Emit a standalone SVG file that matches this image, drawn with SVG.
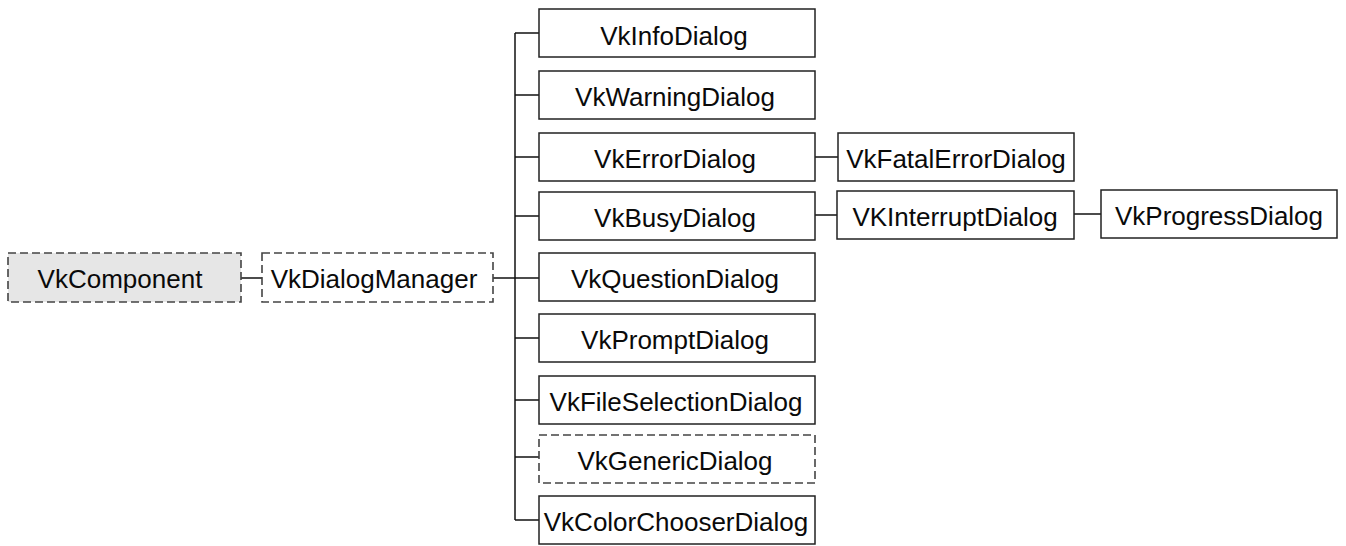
<svg xmlns="http://www.w3.org/2000/svg" width="1346" height="546" viewBox="0 0 1346 546">
  <style>
    .box { fill: #ffffff; stroke: #222222; stroke-width: 1.5; }
    .abstract { fill: #ffffff; stroke: #444444; stroke-width: 1.6; stroke-dasharray: 8 4; }
    .base { fill: #e6e6e6; }
    .label { font-family: "Liberation Sans", Arial, Helvetica, sans-serif; font-size: 26px; fill: #0a0a0a; text-anchor: middle; }
    .link { fill: none; stroke: #111111; stroke-width: 1.5; }
  </style>
  <rect width="1346" height="546" fill="#ffffff"/>

  <!-- connectors of the class hierarchy -->
  <g id="connectors">
    <path class="link" d="M241 278 H262"/>
    <path class="link" d="M493 278 H515"/>
    <path class="link" d="M515 33 V520"/>
    <path class="link" d="M515 33 H539"/>
    <path class="link" d="M515 95 H539"/>
    <path class="link" d="M515 157 H539"/>
    <path class="link" d="M515 216 H539"/>
    <path class="link" d="M515 278 H539"/>
    <path class="link" d="M515 338 H539"/>
    <path class="link" d="M515 400 H539"/>
    <path class="link" d="M515 457 H539"/>
    <path class="link" d="M515 520 H539"/>
    <path class="link" d="M815 157 H838"/>
    <path class="link" d="M815 215 H837"/>
    <path class="link" d="M1074 214 H1101"/>
  </g>

  <g id="VkComponent">
    <rect class="abstract base" x="8" y="253" width="233" height="49"/>
    <text class="label" x="120" y="288">VkComponent</text>
  </g>
  <g id="VkDialogManager">
    <rect class="abstract" x="262" y="253" width="231" height="49"/>
    <text class="label" x="374" y="288">VkDialogManager</text>
  </g>

  <g id="VkInfoDialog">
    <rect class="box" x="539" y="9" width="276" height="48"/>
    <text class="label" x="674" y="45">VkInfoDialog</text>
  </g>
  <g id="VkWarningDialog">
    <rect class="box" x="539" y="71" width="276" height="48"/>
    <text class="label" x="675" y="106">VkWarningDialog</text>
  </g>
  <g id="VkErrorDialog">
    <rect class="box" x="539" y="133" width="276" height="48"/>
    <text class="label" x="675" y="168">VkErrorDialog</text>
  </g>
  <g id="VkBusyDialog">
    <rect class="box" x="539" y="192" width="276" height="48"/>
    <text class="label" x="675" y="227">VkBusyDialog</text>
  </g>
  <g id="VkQuestionDialog">
    <rect class="box" x="539" y="253" width="276" height="48"/>
    <text class="label" x="675" y="288">VkQuestionDialog</text>
  </g>
  <g id="VkPromptDialog">
    <rect class="box" x="539" y="314" width="276" height="48"/>
    <text class="label" x="675" y="349">VkPromptDialog</text>
  </g>
  <g id="VkFileSelectionDialog">
    <rect class="box" x="539" y="376" width="276" height="48"/>
    <text class="label" x="676" y="411">VkFileSelectionDialog</text>
  </g>
  <g id="VkGenericDialog">
    <rect class="abstract" x="539" y="435" width="276" height="48"/>
    <text class="label" x="675" y="470">VkGenericDialog</text>
  </g>
  <g id="VkColorChooserDialog">
    <rect class="box" x="539" y="496" width="276" height="48"/>
    <text class="label" x="676" y="531">VkColorChooserDialog</text>
  </g>

  <g id="VkFatalErrorDialog">
    <rect class="box" x="838" y="133" width="236" height="48"/>
    <text class="label" x="956" y="168">VkFatalErrorDialog</text>
  </g>
  <g id="VKInterruptDialog">
    <rect class="box" x="837" y="191" width="237" height="48"/>
    <text class="label" x="955" y="226">VKInterruptDialog</text>
  </g>
  <g id="VkProgressDialog">
    <rect class="box" x="1101" y="190" width="236" height="48"/>
    <text class="label" x="1219" y="225">VkProgressDialog</text>
  </g>
</svg>
